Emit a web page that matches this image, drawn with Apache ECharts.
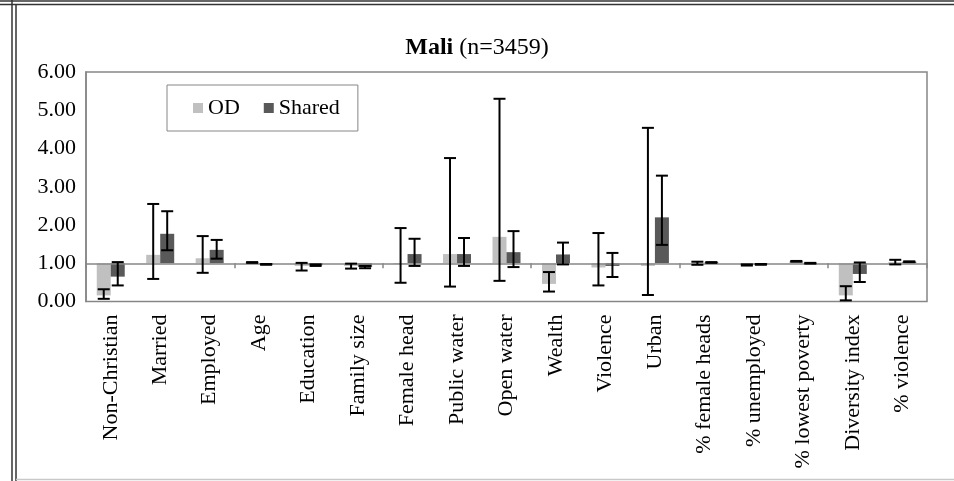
<!DOCTYPE html>
<html>
<head>
<meta charset="utf-8">
<script src="https://cdn.jsdelivr.net/npm/echarts@6/dist/echarts.min.js"></script>
<style>
html,body{margin:0;padding:0;background:#fff;}
#chart{width:954px;height:481px;}
</style>
</head>
<body>
<div id="chart"></div>
<script>
const categories = ['Non-Christian','Married','Employed','Age','Education','Family size','Female head','Public water','Open water','Wealth','Violence','Urban','% female heads','% unemployed','% lowest poverty','Diversity index','% violence'];
const odValues     = [0.16, 1.22, 1.13, 1.02, 0.93, 0.93, 0.98, 1.24, 1.69, 0.46, 0.89, 0.93, 1.00, 0.96, 1.05, 0.16, 1.03];
const odLower      = [0.07, 0.59, 0.75, 1.01, 0.81, 0.86, 0.49, 0.39, 0.54, 0.26, 0.42, 0.17, 0.96, 0.94, 1.04, 0.03, 0.97];
const odUpper      = [0.32, 2.55, 1.71, 1.03, 1.01, 0.99, 1.92, 3.75, 5.30, 0.77, 1.79, 4.54, 1.04, 0.97, 1.06, 0.40, 1.09];
const sharedValues = [0.65, 1.77, 1.35, 0.97, 0.95, 0.90, 1.24, 1.24, 1.29, 1.23, 0.93, 2.20, 1.02, 0.97, 1.00, 0.72, 1.04];
const sharedLower  = [0.42, 1.34, 1.12, 0.96, 0.93, 0.87, 0.93, 0.93, 0.90, 0.97, 0.64, 1.48, 1.01, 0.96, 0.99, 0.51, 1.03];
const sharedUpper  = [1.03, 2.36, 1.61, 0.98, 0.97, 0.93, 1.64, 1.66, 1.84, 1.54, 1.27, 3.29, 1.03, 0.98, 1.01, 1.02, 1.05];
const yTicks = [0, 1, 2, 3, 4, 5, 6];

const BASE = 1; // bars are drawn from the reference value 1.00
const FONT = 'Liberation Serif, Times New Roman, serif';
const BAR_W = 14;

const chart = echarts.init(document.getElementById('chart'), null, {renderer: 'canvas'});

function errSeries(name, lower, upper, offset) {
  return {
    type: 'custom',
    name: name + ' CI',
    xAxisIndex: 0,
    yAxisIndex: 0,
    z: 5,
    silent: true,
    data: lower.map((lo, i) => [i, lo - BASE, upper[i] - BASE]),
    renderItem: function (params, api) {
      const i = api.value(0);
      const top = api.coord([i, api.value(2)]);
      const bot = api.coord([i, api.value(1)]);
      const x = top[0] + offset;
      const cap = 6;
      const style = {stroke: '#000', lineWidth: 2};
      return {
        type: 'group',
        children: [
          {type: 'line', shape: {x1: x, y1: top[1], x2: x, y2: bot[1]}, style: style},
          {type: 'line', shape: {x1: x - cap, y1: top[1], x2: x + cap, y2: top[1]}, style: style},
          {type: 'line', shape: {x1: x - cap, y1: bot[1], x2: x + cap, y2: bot[1]}, style: style}
        ]
      };
    }
  };
}

const option = {
  animation: false,
  backgroundColor: '#fff',
  title: {
    text: '{b|Mali} (n=3459)',
    left: 'center',
    top: 31,
    textStyle: {
      fontFamily: FONT, fontSize: 24, fontWeight: 'normal', color: '#000',
      rich: {b: {fontFamily: FONT, fontSize: 24, fontWeight: 'bold', color: '#000'}}
    }
  },
  legend: {
    data: ['OD', 'Shared'],
    left: 167,
    top: 85,
    padding: [12, 18, 12, 26],
    itemGap: 24,
    itemWidth: 10,
    itemHeight: 10,
    icon: 'rect',
    borderColor: '#868686',
    borderWidth: 1,
    textStyle: {fontFamily: FONT, fontSize: 22, color: '#000'}
  },
  grid: {
    left: 86, right: 27, top: 72, bottom: 179.5,
    show: true, borderColor: '#868686', borderWidth: 1.5, backgroundColor: '#fff'
  },
  xAxis: [
    {
      type: 'category',
      data: categories,
      position: 'bottom',
      axisLine: {onZero: true, lineStyle: {color: '#868686', width: 1.5}},
      axisTick: {show: true, length: 5, lineStyle: {color: '#868686', width: 1.5}},
      axisLabel: {show: false},
      z: 3
    },
    {
      type: 'category',
      data: categories,
      position: 'bottom',
      axisLine: {show: false, onZero: false},
      axisTick: {show: false},
      axisLabel: {
        show: true, rotate: 90, interval: 0, margin: 13,
        fontFamily: FONT, fontSize: 22, color: '#000'
      }
    }
  ],
  yAxis: {
    type: 'value',
    min: yTicks[0] - BASE,
    max: yTicks[yTicks.length - 1] - BASE,
    interval: 1,
    axisLine: {show: true, lineStyle: {color: '#868686', width: 1.5}},
    axisTick: {show: false},
    splitLine: {show: false},
    axisLabel: {
      margin: 10,
      fontFamily: FONT, fontSize: 22, color: '#000',
      formatter: v => (v + BASE).toFixed(2)
    }
  },
  series: [
    {
      name: 'OD', type: 'bar', xAxisIndex: 0,
      barWidth: BAR_W, barGap: '0%',
      itemStyle: {color: '#c0c0c0'},
      data: odValues.map(v => +(v - BASE).toFixed(4))
    },
    {
      name: 'Shared', type: 'bar', xAxisIndex: 0,
      barWidth: BAR_W, barGap: '0%',
      itemStyle: {color: '#595959'},
      data: sharedValues.map(v => +(v - BASE).toFixed(4))
    },
    errSeries('OD', odLower, odUpper, -BAR_W / 2),
    errSeries('Shared', sharedLower, sharedUpper, BAR_W / 2)
  ],
  graphic: [
    {type: 'line', silent: true, shape: {x1: 0, y1: 1, x2: 954, y2: 1}, style: {stroke: '#333', lineWidth: 1.5}},
    {type: 'line', silent: true, shape: {x1: 0, y1: 4.5, x2: 954, y2: 4.5}, style: {stroke: '#333', lineWidth: 1.5}},
    {type: 'line', silent: true, shape: {x1: 12, y1: 0, x2: 12, y2: 481}, style: {stroke: '#333', lineWidth: 1.5}},
    {type: 'line', silent: true, shape: {x1: 16, y1: 4.5, x2: 16, y2: 481}, style: {stroke: '#333', lineWidth: 1.5}},
    {type: 'line', silent: true, shape: {x1: 16, y1: 479.5, x2: 954, y2: 479.5}, style: {stroke: '#c8c8c8', lineWidth: 1.5}}
  ]
};
chart.setOption(option);
</script>
</body>
</html>
